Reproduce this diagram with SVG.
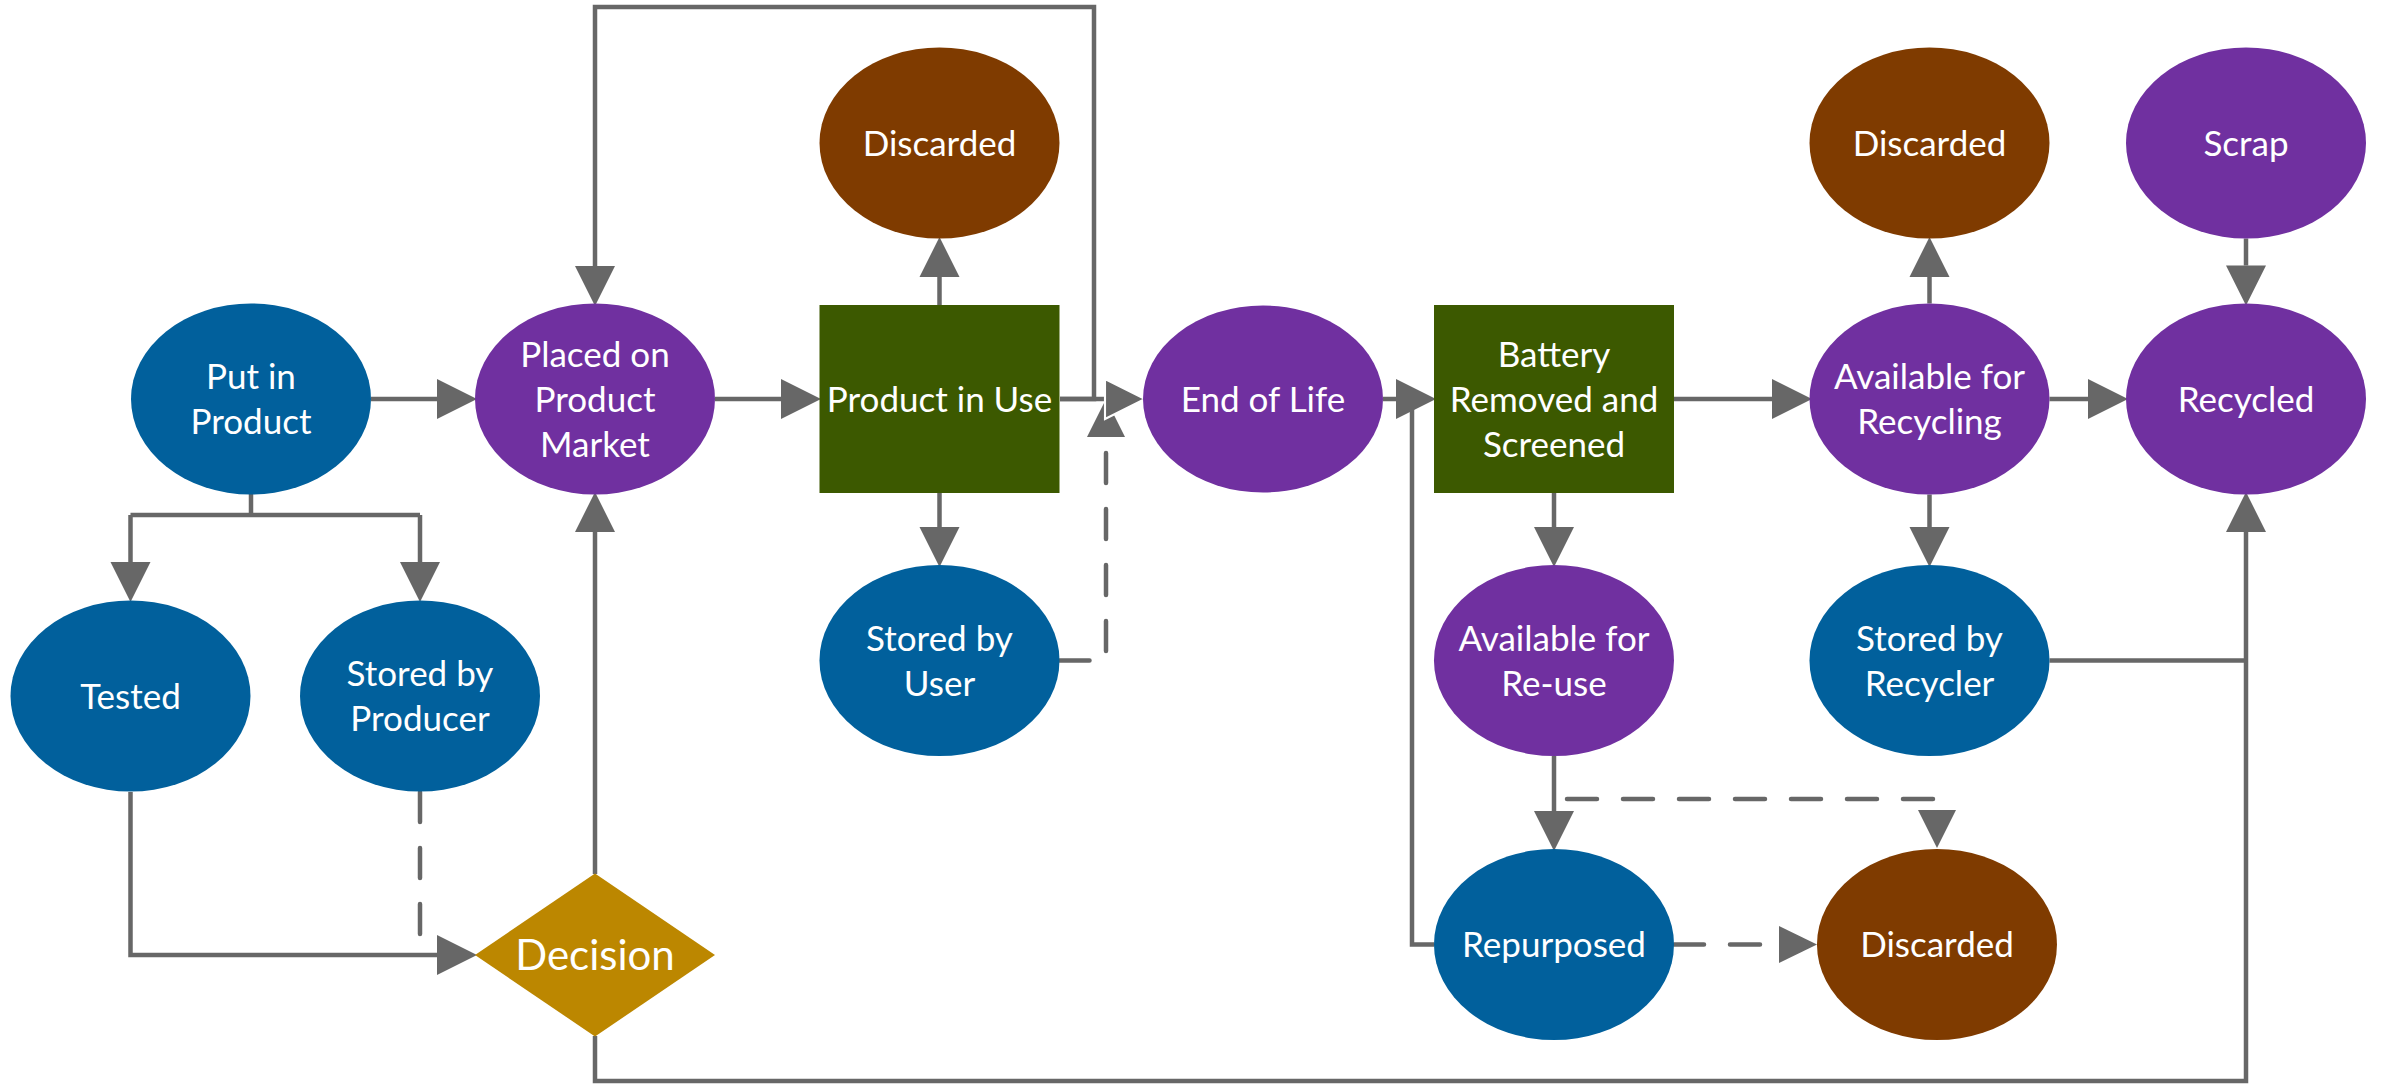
<svg xmlns="http://www.w3.org/2000/svg" width="2381" height="1084" viewBox="0 0 2381 1084">
<style>
.blue{fill:#01609C}
.purple{fill:#7030A0}
.brown{fill:#7F3B00}
.green{fill:#3C5900}
.gold{fill:#BC8700}
.lbl{font-family:Lato,"Open Sans","Liberation Sans",sans-serif;font-size:35px;fill:#ffffff;text-anchor:middle}
.big{font-size:42px}
.c{fill:none;stroke:#676767;stroke-width:4.5}
.m{marker-end:url(#arr)}
.d{stroke-dasharray:30 26;stroke-linecap:round}
</style>
<defs>
<marker id="arr" markerUnits="userSpaceOnUse" markerWidth="40" markerHeight="40" viewBox="0 0 38 38" refX="0" refY="19" orient="auto" overflow="visible">
<path d="M0,0 L38,19 L0,38 Z" fill="#676767"/>
</marker>
<marker id="arrw" markerUnits="userSpaceOnUse" markerWidth="40" markerHeight="40" viewBox="0 0 38 38" refX="0" refY="19" orient="auto" overflow="visible">
<path d="M0,0 L38,19 L0,38 Z" fill="#676767" stroke="#ffffff" stroke-width="2"/>
</marker>
</defs>
<rect width="2381" height="1084" fill="#ffffff"/>
<g id="connectors">
<path class="c m" d="M371,399 H437"/>
<path class="c" d="M251,494 V515 M130.5,515 H420"/>
<path class="c m" d="M130.5,515 V562"/>
<path class="c m" d="M420,515 V562"/>
<path class="c d" d="M420,792 V954"/>
<path class="c m" d="M130.5,792 V955 H437"/>
<path class="c m" d="M595,874 V532"/>
<path class="c m" d="M595,1036 V1081 H2246 V532"/>
<path class="c m" d="M715,399 H781"/>
<path class="c m" d="M1060,399 H1094 V7 H595 V266"/>
<path class="c m" d="M939.5,305 V277"/>
<path class="c m" d="M939.5,493 V527"/>
<path class="c d" d="M1059.5,660.5 H1106 V437"/>
<path d="M1087,437 L1106,399 L1125,437 Z" fill="#676767"/>
<path class="c" d="M1060,399 H1105" marker-end="url(#arrw)"/>
<path class="c" d="M1434,944.5 H1412 V406"/>
<path class="c m" d="M1383,399 H1396"/>
<path class="c m" d="M1674,399 H1772"/>
<path class="c m" d="M1554,493 V527"/>
<path class="c m" d="M1929.5,303.5 V277"/>
<path class="c m" d="M1929.5,494.5 V527"/>
<path class="c m" d="M2049.5,399 H2088"/>
<path class="c m" d="M2246,238.5 V265.5"/>
<path class="c" d="M2049.5,660.5 H2246"/>
<path class="c m" d="M1554,756 V811"/>
<path class="c d" d="M1567,799 H1937 V810"/>
<path d="M1918,810 L1937,848 L1956,810 Z" fill="#676767"/>
<path class="c d" d="M1674,944.5 H1779"/>
<path d="M1779,926 L1817,944.5 L1779,963 Z" fill="#676767"/>
</g>
<g id="put-in-product"><ellipse class="blue" cx="251" cy="399" rx="120" ry="95.5"/><text class="lbl" x="251" y="389">Put in</text><text class="lbl" x="251" y="434">Product</text></g>
<g id="placed-on-market"><ellipse class="purple" cx="595" cy="399" rx="120" ry="95.5"/><text class="lbl" x="595" y="366.5">Placed on</text><text class="lbl" x="595" y="411.5">Product</text><text class="lbl" x="595" y="456.5">Market</text></g>
<g id="tested"><ellipse class="blue" cx="130.5" cy="696" rx="120" ry="95.5"/><text class="lbl" x="130.5" y="708.5">Tested</text></g>
<g id="stored-by-producer"><ellipse class="blue" cx="420" cy="696" rx="120" ry="95.5"/><text class="lbl" x="420" y="686">Stored by</text><text class="lbl" x="420" y="731">Producer</text></g>
<g id="decision"><polygon class="gold" points="475,955 595,873.5 715,955 595,1036.5"/><text class="lbl big" x="595" y="970">Decision</text></g>
<g id="product-in-use"><rect class="green" x="819.5" y="305" width="240" height="188"/><text class="lbl" x="939.5" y="411.5">Product in Use</text></g>
<g id="discarded-1"><ellipse class="brown" cx="939.5" cy="143" rx="120" ry="95.5"/><text class="lbl" x="939.5" y="155.5">Discarded</text></g>
<g id="stored-by-user"><ellipse class="blue" cx="939.5" cy="660.5" rx="120" ry="95.5"/><text class="lbl" x="939.5" y="650.5">Stored by</text><text class="lbl" x="939.5" y="695.5">User</text></g>
<g id="end-of-life"><ellipse class="purple" cx="1263" cy="399" rx="120" ry="93.5"/><text class="lbl" x="1263" y="411.5">End of Life</text></g>
<g id="battery-removed"><rect class="green" x="1434" y="305" width="240" height="188"/><text class="lbl" x="1554" y="366.5">Battery</text><text class="lbl" x="1554" y="411.5">Removed and</text><text class="lbl" x="1554" y="456.5">Screened</text></g>
<g id="available-for-reuse"><ellipse class="purple" cx="1554" cy="660.5" rx="120" ry="95.5"/><text class="lbl" x="1554" y="650.5">Available for</text><text class="lbl" x="1554" y="695.5">Re-use</text></g>
<g id="repurposed"><ellipse class="blue" cx="1554" cy="944.5" rx="120" ry="95.5"/><text class="lbl" x="1554" y="957">Repurposed</text></g>
<g id="discarded-3"><ellipse class="brown" cx="1937" cy="944.5" rx="120" ry="95.5"/><text class="lbl" x="1937" y="957">Discarded</text></g>
<g id="available-for-recycling"><ellipse class="purple" cx="1929.5" cy="399" rx="120" ry="95.5"/><text class="lbl" x="1929.5" y="389">Available for</text><text class="lbl" x="1929.5" y="434">Recycling</text></g>
<g id="discarded-2"><ellipse class="brown" cx="1929.5" cy="143" rx="120" ry="95.5"/><text class="lbl" x="1929.5" y="155.5">Discarded</text></g>
<g id="stored-by-recycler"><ellipse class="blue" cx="1929.5" cy="660.5" rx="120" ry="95.5"/><text class="lbl" x="1929.5" y="650.5">Stored by</text><text class="lbl" x="1929.5" y="695.5">Recycler</text></g>
<g id="scrap"><ellipse class="purple" cx="2246" cy="143" rx="120" ry="95.5"/><text class="lbl" x="2246" y="155.5">Scrap</text></g>
<g id="recycled"><ellipse class="purple" cx="2246" cy="399" rx="120" ry="95.5"/><text class="lbl" x="2246" y="411.5">Recycled</text></g>
</svg>
